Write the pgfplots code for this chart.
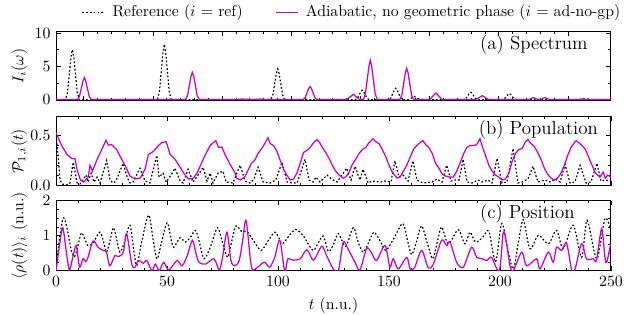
\documentclass[border=0pt]{standalone}
\usepackage{pgfplots}
\pgfplotsset{compat=1.18}
\definecolor{mag}{RGB}{204,0,204}
\pgfplotsset{
  panel/.style={
    width=352.4pt, height=44.4pt, scale only axis,
    tick align=inside,
    axis line style={line width=0.6pt},
    every tick/.style={black, line width=0.5pt},
    major tick length=3pt, minor tick length=1.7pt,
    ylabel style={at={(axis description cs:-0.066,0.5)}, anchor=center},
  },
  refl/.style={black, line width=0.75pt, dash pattern=on 1.1pt off 1.3pt},
  adl/.style={mag, line width=0.8pt},
}
\begin{document}
\begin{tikzpicture}
\path[use as bounding box] (-35.6pt,19.7pt) rectangle (364.5pt,-180.3pt);
% ---------------- (a) Spectrum
\begin{axis}[panel, at={(0,0)}, anchor=north west,
  xmin=-0.4, xmax=7.62, xtick={0,...,7}, xticklabels={}, minor x tick num=4,
  ymin=-0.2, ymax=10.3, ytick={0,5,10}, minor y tick num=1,
  ylabel={$I_i(\omega)$},
  legend image code/.code={\draw[#1] (0cm,0cm) -- (0.5cm,0cm);},
  legend style={at={(0.538,1.27)}, anchor=center, draw=none, fill=none,
    legend columns=2, /tikz/every even column/.append style={column sep=16pt},
    nodes={inner xsep=4.5pt}},
  legend cell align=left]
\addplot[refl] coordinates {
(-0.4,0) (-0.264,0) (-0.234,1.1) (-0.209,3.75) (-0.184,6.4) (-0.164,7.5) (-0.144,6.4) (-0.119,3.75) (-0.094,1.1) (-0.064,0)
(1.065,0) (1.095,1.25) (1.12,4.15) (1.145,7.05) (1.165,8.3) (1.185,7.05) (1.21,4.15) (1.235,1.25) (1.265,0)
(2.704,0) (2.734,0.7) (2.759,2.3) (2.784,3.9) (2.804,4.6) (2.824,3.9) (2.849,2.3) (2.874,0.7) (2.904,0)
(3.926,0) (3.956,0.2) (3.981,0.7) (4.006,1.2) (4.026,1.4) (4.046,1.2) (4.071,0.7) (4.096,0.2) (4.126,0)
(4.409,0) (4.439,0.25) (4.464,0.85) (4.489,1.45) (4.509,1.7) (4.529,1.45) (4.554,0.85) (4.579,0.25) (4.609,0)
(4.69,0) (4.735,0.22) (4.778,0.45) (4.82,0.22) (4.865,0)
(5.493,0) (5.523,0.17) (5.548,0.55) (5.573,0.93) (5.593,1.1) (5.613,0.93) (5.638,0.55) (5.663,0.17) (5.693,0)
(6.051,0) (6.081,0.14) (6.106,0.45) (6.131,0.77) (6.151,0.9) (6.171,0.77) (6.196,0.45) (6.221,0.14) (6.251,0)
(7.15,0) (7.2,0.08) (7.245,0.15) (7.29,0.08) (7.34,0) (7.62,0)
};
\addlegendentry{Reference ($i$ = ref)}
\addplot[adl] coordinates {
(-0.4,0) (-0.091,0) (-0.061,0.5) (-0.036,1.65) (-0.011,2.8) (0.009,3.3) (0.029,2.8) (0.054,1.65) (0.079,0.5) (0.109,0)
(1.47,0) (1.5,0.6) (1.525,2.05) (1.55,3.5) (1.57,4.1) (1.59,3.5) (1.615,2.05) (1.64,0.6) (1.67,0)
(2.2,0) (2.3,0.1) (2.4,0) (2.55,0.08) (2.65,0)
(3.171,0) (3.201,0.3) (3.226,0.98) (3.251,1.66) (3.271,1.95) (3.291,1.66) (3.316,0.98) (3.341,0.3) (3.371,0)
(3.8,0) (3.85,0.4) (3.896,0.8) (3.94,0.4) (3.99,0)
(4.042,0) (4.072,0.9) (4.097,2.95) (4.122,5.0) (4.142,5.9) (4.162,5.0) (4.187,2.95) (4.212,0.9) (4.242,0)
(4.568,0) (4.598,0.7) (4.623,2.35) (4.648,4.0) (4.668,4.7) (4.688,4.0) (4.713,2.35) (4.738,0.7) (4.768,0)
(5.0,0) (5.045,0.5) (5.091,1.0) (5.135,0.5) (5.18,0)
(5.67,0) (5.715,0.3) (5.76,0.6) (5.805,0.3) (5.85,0)
(6.43,0) (6.497,0.3) (6.56,0.05) (6.6,0) (6.666,0.3) (6.73,0)
(7.15,0) (7.2,0.08) (7.25,0) (7.62,0)
};
\addlegendentry{Adiabatic, no geometric phase ($i$ = ad-no-gp)}
\node[anchor=north east, inner sep=0pt, font=\large] at (rel axis cs:0.9586,0.94) {(a) Spectrum};
\end{axis}
% ---------------- (b) Population
\begin{axis}[panel, at={(0,-54pt)}, anchor=north west,
  xmin=0, xmax=250, xtick={0,50,...,250}, xticklabels={}, minor x tick num=4,
  ymin=-0.01, ymax=0.7, ytick={0,0.5}, minor y tick num=4,
  yticklabel style={/pgf/number format/.cd, fixed, fixed zerofill, precision=1},
  ylabel={$\mathcal{P}_{1,i}(t)$}]
\addplot[refl] coordinates {
(0,0.5)(0.9,0.3)(1.8,0.05)(2.7,0.01)(4.5,0.0)(6.3,0.02)(7.7,0.23)(9.5,0.02)(10.8,0.01)(13.5,0.1)(14.4,0.03)(15.8,0.12)(17.1,0.03)(18.5,0.08)(19.8,0.02)(22.8,0.25)(24.3,0.05)(25.7,0.02)(27,0.04)(30.2,0.22)(32,0.08)(33.3,0.02)(34.7,0.03)(37.8,0.17)(40.1,0.04)(42.3,0.02)(45.4,0.3)(46.4,0.08)(48.2,0.12)(49.6,0.03)(51.8,0.1)(53.6,0.17)(55.9,0.04)(57.2,0.02)(59.5,0.16)(61.7,0.03)(64,0.1)(66.2,0.18)(68,0.04)(69.4,0.12)(70.7,0.02)(73,0.12)(75.2,0.14)(76.6,0.03)(79.7,0.02)(82.9,0.2)(85.2,0.04)(87.4,0.02)(89.2,0.06)(91,0.18)(93.3,0.03)(96.4,0.02)(99,0.05)(101.8,0.23)(104.1,0.03)(106.3,0.02)(108.6,0.02)(112.2,0.26)(114,0.05)(115.8,0.03)(117.1,0.08)(118.9,0.03)(122.1,0.1)(124.8,0.05)(126.6,0.03)(130.9,0.17)(132.9,0.05)(134.7,0.19)(136.9,0.05)(138.3,0.16)(140.6,0.02)(142.4,0.04)(146,0.03)(148.7,0.04)(150.9,0.03)(152.7,0.245)(154.5,0.08)(156.3,0.1)(158.6,0.04)(160.8,0.245)(162.6,0.05)(165.3,0.02)(169.4,0.03)(171.6,0.06)(173.9,0.03)(176,0.2)(177.9,0.04)(179.7,0.05)(181.6,0.05)(183.4,0.26)(185.2,0.03)(187.4,0.02)(190.1,0.05)(191.9,0.03)(194.6,0.05)(196.4,0.02)(198.7,0.27)(200.9,0.02)(203.2,0.03)(205.9,0.37)(208.1,0.02)(209.9,0.03)(212.6,0.06)(214.9,0.19)(217.1,0.03)(220.3,0.05)(222.5,0.03)(224.8,0.06)(227.1,0.03)(229.3,0.21)(231.6,0.02)(233.8,0.03)(236.1,0.2)(238.8,0.02)(241,0.03)(243.7,0.22)(245.5,0.04)(247.3,0.05)(250,0.04)
};
\addplot[adl] coordinates {
(0,0.53)(1.5,0.45)(3,0.38)(5,0.31)(7,0.27)(8.5,0.27)(9.5,0.15)(11,0.05)(12.5,0.03)(14.5,0.08)(15.3,0.2)(16.4,0.14)(18.3,0.25)(20.6,0.36)(22.5,0.455)(23.6,0.405)(25,0.41)(27.3,0.36)(29.6,0.26)(31.5,0.18)(33.3,0.09)(35.6,0.06)(37.9,0.07)(40.1,0.16)(41.6,0.31)(43.8,0.34)(46.1,0.40)(47.6,0.43)(49.6,0.44)(51.4,0.31)(53.6,0.26)(55.1,0.21)(57.4,0.125)(59.6,0.06)(61.9,0.07)(63.5,0.12)(64.9,0.19)(67.1,0.30)(69.4,0.40)(70.9,0.43)(72,0.45)(73.2,0.38)(74.7,0.385)(76.1,0.31)(78.4,0.21)(80.6,0.125)(81.4,0.07)(83,0.05)(85,0.08)
(86.5,0.15)(88,0.22)(89.5,0.25)(91,0.32)(93,0.38)(94.5,0.44)(95.5,0.48)(96.5,0.42)(98,0.40)(99.5,0.34)(101,0.25)(102.5,0.16)(104,0.1)(105.5,0.05)(107,0.06)
(108.5,0.12)(110,0.22)(111.5,0.33)(113,0.35)(114.5,0.38)(116,0.43)(117.6,0.46)(118.8,0.43)(120,0.38)(121.5,0.33)(123,0.27)(124.5,0.2)(126,0.14)(127.5,0.1)(129.3,0.07)(130.5,0.08)
(132,0.13)(133.5,0.21)(135,0.26)(136.5,0.32)(138,0.36)(139.5,0.38)(141,0.43)(142.8,0.47)(144,0.44)(145.5,0.42)(147,0.36)(148.5,0.29)(150,0.2)(151.5,0.13)(153.6,0.07)(155,0.08)
(156.5,0.14)(158,0.2)(159.5,0.28)(161,0.36)(162.5,0.4)(164,0.43)(165.3,0.45)(166.5,0.41)(168,0.38)(169.5,0.32)(171,0.22)(172.5,0.17)(174,0.11)(175.5,0.09)(177.5,0.08)(179,0.08)
(180.5,0.14)(182,0.22)(183.5,0.31)(185,0.38)(186.5,0.4)(188,0.4)(189.5,0.41)(191,0.47)(192.2,0.38)(193.5,0.3)(195,0.2)(196.5,0.14)(198,0.1)(199.5,0.08)(200.9,0.05)(202.5,0.06)
(204,0.12)(205.5,0.24)(207,0.32)(208.5,0.36)(210,0.37)(211.5,0.44)(212.6,0.46)(214,0.42)(215.5,0.39)(217,0.33)(218.5,0.26)(220,0.17)(221.5,0.11)(223,0.07)(224.5,0.05)(226,0.07)
(227.5,0.12)(229,0.2)(230.5,0.3)(232,0.38)(233.5,0.43)(234.3,0.45)(235.5,0.43)(237,0.4)(238.5,0.36)(240,0.28)(241.5,0.2)(243,0.12)(245,0.08)(246.5,0.13)(247.5,0.07)(248.5,0.1)(250,0.08)
};
\node[anchor=north east, inner sep=0pt, font=\large] at (rel axis cs:0.977,0.94) {(b) Population};
\end{axis}
% ---------------- (c) Position
\begin{axis}[panel, at={(0,-107.8pt)}, anchor=north west,
  xmin=0, xmax=250, xtick={0,50,...,250}, minor x tick num=4,
  ymin=0, ymax=2, ytick={0,1,2}, minor y tick num=3,
  xlabel={$t$ (n.u.)},
  ylabel={$\langle\rho(t)\rangle_i$ (n.u.)}]
\addplot[refl, smooth, tension=0.5] coordinates {
(0,0)(1.5,0.9)(3.3,1.51)(5,1.2)(6.8,0.6)(8.3,0.4)(9.8,0.7)(11.4,1.08)(13,0.9)(14.4,0.72)(16.7,0.8)(19.7,1.1)(21.3,0.85)(22.7,0.53)(24.3,0.85)(25.8,1.23)(27.3,0.9)(28.8,0.53)(31,0.85)(33.3,1.3)(35,0.6)(36.4,0.15)(38.5,0.8)(41.7,1.59)(43.7,0.9)(45.5,0.34)(47.5,0.8)(50,1.37)(51.5,1.0)(53,0.67)(55.8,0.94)(58.3,0.82)(60.5,0.95)(62.9,1.15)(64.8,0.75)(66.7,0.34)(69.7,0.7)(72.7,1.23)(75,0.8)(77.3,0.38)(79,0.8)(81,1.28)(83.5,1.13)(86,1.12)(89,0.85)(92.4,0.58)(95.5,0.85)(98.5,1.1)(100.3,0.95)(102,0.77)(105,1.0)(108,1.18)(111.4,1.0)(113.7,0.75)(116,0.58)(118.2,0.8)(120.4,0.99)(122.7,0.55)(125,0.75)(127.2,1.06)(130.5,0.7)(133.9,1.23)(136.2,0.8)(138.4,0.53)(140.8,0.8)(143.2,1.1)(146,0.85)(148.6,0.58)(152.4,0.95)(156.2,1.35)(158.2,0.9)(160.2,0.46)(162.5,0.85)(164.7,1.28)(167.2,0.8)(169.7,0.34)(171.7,0.8)(173.7,1.25)(176.7,0.77)(181.2,1.17)(184.2,0.77)(186.5,1.1)(189,0.82)(192.2,0.95)(195,1.13)(198,0.25)(200.8,1.35)(203.5,0.6)(206,0.05)(208.3,0.8)(210.5,1.46)(213.5,0.63)(217.3,1.01)(221.8,0.77)(225.5,1.15)(228.5,0.63)(233,1.3)(236.8,0.38)(239.3,1.44)(243.6,0.34)(247.3,1.49)(250,1.15)
};
\addplot[adl, smooth, tension=0.5] coordinates {
(0,0)(1.5,0.7)(3,1.23)(4.5,0.6)(6,0.02)(7.6,0.4)(9.1,0.72)(10.6,0.1)(12.1,0.34)(13.3,0.26)(14.4,0.38)(16.7,0.85)(18.9,0.67)(21.2,0.58)(22.7,0.53)(24.2,0.14)(26.5,0.43)(28,0.4)(30.3,0.53)(31.8,1.06)(34.1,0.19)(35.6,0.1)(37.1,0.29)(39.4,0.21)(40.9,0.29)(43.2,0.0)(44.7,0.19)(46.5,0.0)(48.5,0.24)(50.8,0.02)(54.5,0.29)(56.8,0.14)(59.1,0.43)(61.4,0.87)(62.9,0.53)(64.4,0.24)(67.4,0.19)(71.2,0.34)(73.5,0.02)(75,0.38)(77,1.1)(78.8,0.29)(80.5,0.14)(82.5,0.29)(84.1,0.87)(85.6,1.44)(87.6,0.29)(88.6,0.02)(90.9,0.1)(93.9,0.24)(96.2,0.1)(98.5,0.38)(100.8,0.87)(103,0.0)(104.5,0.34)(106.8,0.3)(110,0.34)(113,0.6)(116,0.3)(119.7,0.7)(121.9,0.43)(124.9,0.05)(127.2,0)(129.4,0.82)(131.7,0.6)(134.7,0.24)(136.9,0.02)(139.9,0.63)(142,0.53)(144.4,0.29)(148.2,0.72)(150.4,0.1)(151.9,0.34)(154.2,0.05)(158,0.38)(159.5,0.05)(161.5,0.08)(164.7,0.58)(167.7,0.08)(170,0.19)(173.7,0.87)(176,0.72)(177.5,0.82)(180.5,0.24)(183.5,0.1)(187.2,0.67)(189.5,0.38)(191.8,0.35)(194,0.29)(196.2,0.38)(199.7,0)(201.5,1.1)(203,0.77)(204.5,0.14)(206,0)(209.8,0.53)(212,0.14)(216.5,0.34)(218,0.05)(221.8,0.53)(224,0.24)(225.5,0.67)(227.8,0.58)(230,0.79)(232.3,0.02)(233.8,0.04)(236.8,0.77)(239,0.34)(242,0.34)(243.5,0.3)(245.8,1.2)(247.3,0.38)(248.1,0.24)(249.9,0.77)
};
\node[anchor=north east, inner sep=0pt, font=\large] at (rel axis cs:0.935,0.95) {(c) Position};
\end{axis}
\end{tikzpicture}
\end{document}
